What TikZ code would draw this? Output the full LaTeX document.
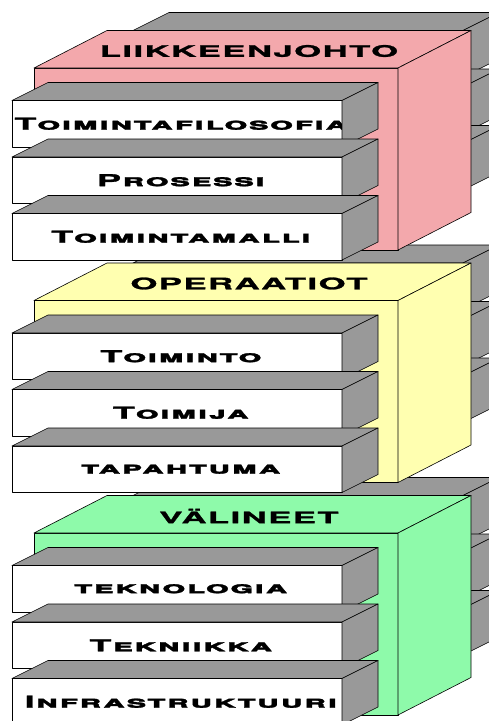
\documentclass[tikz,border=0pt]{standalone}
\usepackage{fontspec}
\usetikzlibrary{calc}
\newfontfamily\layerfont{TeX Gyre Heros}[FakeStretch=2.2,LetterSpace=7,FakeBold=1.6]
\newfontfamily\titlefont{TeX Gyre Heros}[FakeStretch=2.2,LetterSpace=9,FakeBold=1.6]
\definecolor{boxgrey}{RGB}{153,153,153}
\definecolor{mgmtpink}{RGB}{243,168,172}
\definecolor{opsyellow}{RGB}{255,255,176}
\definecolor{toolgreen}{RGB}{142,250,170}
\tikzset{
  face/.style={draw=black, line width=0.6pt, line join=round},
  greyface/.style={face, fill=boxgrey},
  slabfront/.style={face, fill=white, anchor=north west, outer sep=0, inner sep=0, minimum width=330, minimum height=46.5, font=\fontsize{16.5}{16.5}\selectfont\layerfont\bfseries\scshape},
  framefront/.style={face, anchor=north west, outer sep=0, inner sep=0, minimum width=364, minimum height=182},
  frametitle/.style={inner sep=0, font=\fontsize{15.8}{16}\selectfont\titlefont\bfseries}
}
% one box: name, top edge, label (optional fill)
\newcommand\slab[4][white]{
  \node[slabfront, fill=#1] (#2) at (12,#3) {\makebox[0pt]{\hspace{8pt}#4}};
  \draw[greyface] (#2.north west) -- ++(36,-18) -- ++(330,0) -- (#2.north east) -- cycle;
  \draw[greyface] (#2.north east) -- ++(36,-18) -- ++(0,46.5) -- (#2.south east) -- cycle;
}
% coloured layer: name, colour, top edge, title
\newcommand\layerframe[4]{
  \node[framefront, fill=#2] (#1) at (34,#3) {};
  \draw[face, fill=#2] (#1.north west) -- ++(73,-37.5) -- ++(364,0) -- (#1.north east) -- cycle;
  \draw[face, fill=#2] (#1.north east) -- ++(73,-37.5) -- ++(0,182) -- (#1.south east) -- cycle;
  \node[frametitle] (#1-title) at ($(#1.north)+(33,-17)$) {#4};
}
\begin{document}
\begin{tikzpicture}[x=1pt, y=-1pt]
  \useasboundingbox (0,0) rectangle (489,721);
  \clip (0,0) rectangle (489,721);

  \begin{scope}[shift={(0,465)}]
    \begin{scope}[shift={(121,-70)}]
      \slab[boxgrey]{tools-back1}{100.5}{}
      \slab[boxgrey]{tools-back2}{157}{}
      \slab[boxgrey]{tools-back3}{213.5}{}
    \end{scope}
    \layerframe{tools}{toolgreen}{68}{VÄLINEET}
    \slab{technology}{100.5}{teknologia}
    \slab{technique}{157}{Tekniikka}
    \slab{infrastructure}{213.5}{Infrastruktuuri}
  \end{scope}

  \begin{scope}[shift={(0,232.5)}]
    \begin{scope}[shift={(121,-70)}]
      \slab[boxgrey]{ops-back1}{100.5}{}
      \slab[boxgrey]{ops-back2}{157}{}
      \slab[boxgrey]{ops-back3}{213.5}{}
    \end{scope}
    \layerframe{ops}{opsyellow}{68}{OPERAATIOT}
    \slab{operation}{100.5}{Toiminto}
    \slab{actor}{157}{Toimija}
    \slab{event}{213.5}{tapahtuma}
  \end{scope}

  \begin{scope}[shift={(121,-70)}]
    \slab[boxgrey]{mgmt-back1}{100.5}{}
    \slab[boxgrey]{mgmt-back2}{157}{}
    \slab[boxgrey]{mgmt-back3}{213.5}{}
  \end{scope}
  \layerframe{mgmt}{mgmtpink}{68}{LIIKKEENJOHTO}
  \slab{philosophy}{100.5}{Toimintafilosofia}
  \slab{process}{157}{Prosessi}
  \slab{model}{213.5}{Toimintamalli}
\end{tikzpicture}
\end{document}
